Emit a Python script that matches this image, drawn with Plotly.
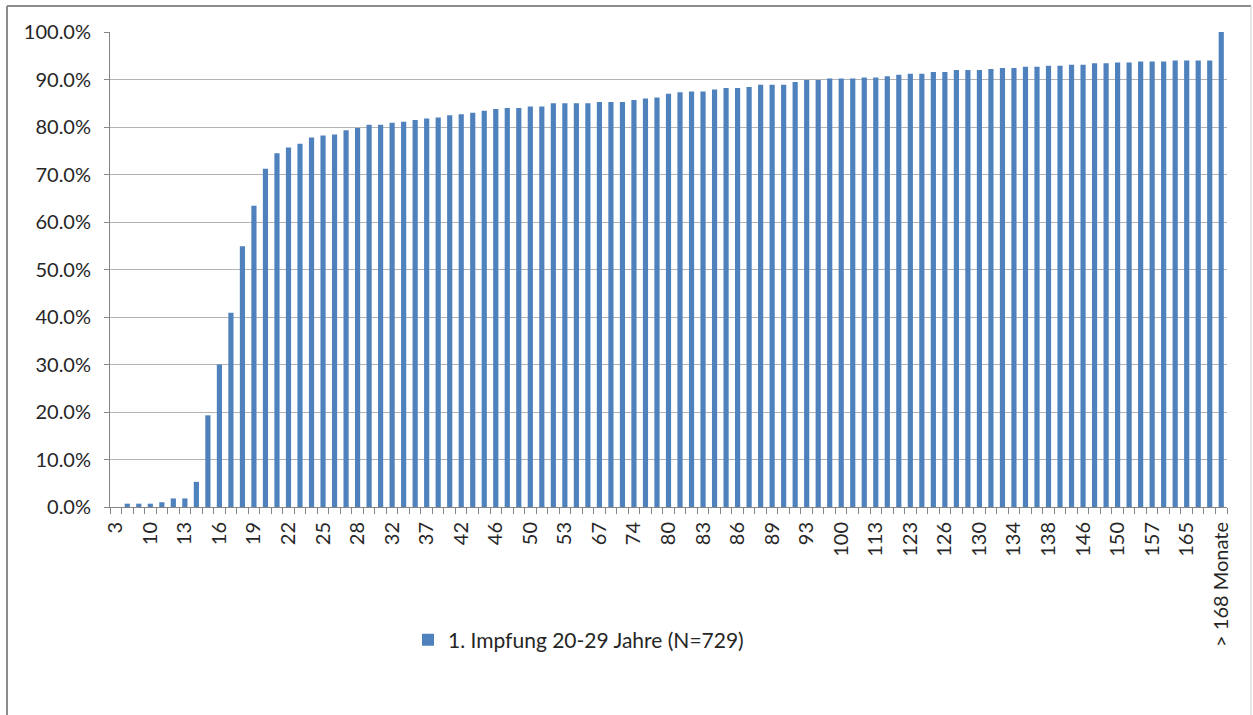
import plotly.graph_objects as go

# ---- data ----
categories = [
    "3", "6", "8", "10", "11", "12", "13", "14", "15", "16", "17", "18", "19",
    "20", "21", "22", "23", "24", "25", "26", "27", "28", "30", "31", "32",
    "34", "35", "37", "39", "40", "42", "43", "44", "46", "47", "48", "50",
    "51", "52", "53", "58", "62", "67", "70", "72", "74", "76", "78", "80",
    "81", "82", "83", "84", "85", "86", "87", "88", "89", "90", "92", "93",
    "95", "98", "100", "105", "110", "113", "117", "120", "123", "124", "125",
    "126", "127", "129", "130", "131", "133", "134", "135", "137", "138",
    "141", "144", "146", "147", "149", "150", "152", "155", "157", "160",
    "163", "165", "166", "167", "> 168 Monate",
]

cum_percent = [
    0.0, 0.7, 0.7, 0.7, 1.0, 1.8, 1.8, 5.3, 19.3, 30.0, 40.9, 54.9, 63.4,
    71.2, 74.5, 75.7, 76.5, 77.8, 78.2, 78.4, 79.3, 79.8, 80.5, 80.5, 80.9,
    81.1, 81.5, 81.8, 82.0, 82.5, 82.7, 83.0, 83.4, 83.8, 84.0, 84.0, 84.3,
    84.3, 85.0, 85.0, 85.0, 85.0, 85.25, 85.25, 85.25, 85.7, 86.0, 86.2, 87.0,
    87.3, 87.5, 87.5, 87.9, 88.2, 88.2, 88.4, 88.9, 88.9, 88.9, 89.5, 89.9,
    89.9, 90.2, 90.2, 90.2, 90.4, 90.4, 90.7, 91.0, 91.2, 91.2, 91.6,
    91.6, 92.0, 92.0, 92.0, 92.2, 92.4, 92.4, 92.7, 92.7, 92.9,
    92.9, 93.1, 93.1, 93.4, 93.4, 93.6, 93.6, 93.8, 93.8, 93.8,
    94.0, 94.0, 94.0, 94.0, 100.0,
]

series_name = "1. Impfung 20-29 Jahre (N=729)"
label_step = 3

# ---- derived ----
values = [v / 100.0 for v in cum_percent]
positions = list(range(len(categories)))
n = len(categories)

W, H = 1253, 715
ML, MR, MT, MB = 110, 26, 32, 208
pw = W - ML - MR
ph = H - MT - MB

def px_x(x):
    return (x - ML) / pw

def px_y(y):
    return (H - MB - y) / ph

FONT = "Lato"
TXT = "#262626"
AXIS = "#868686"

fig = go.Figure()
fig.add_trace(go.Bar(
    x=positions,
    y=values,
    name=series_name,
    width=0.45,
    marker=dict(color="#4F81BD", line=dict(width=0)),
    showlegend=True,
))

fig.update_layout(
    width=W, height=H,
    margin=dict(l=ML, r=MR, t=MT, b=MB),
    paper_bgcolor="white",
    plot_bgcolor="white",
    font=dict(family=FONT, size=20, color=TXT),
    showlegend=True,
    legend=dict(
        orientation="h",
        x=px_x(408), xanchor="left",
        y=px_y(640), yanchor="middle",
        font=dict(family=FONT, size=21, color=TXT),
        bgcolor="rgba(0,0,0,0)",
    ),
    xaxis=dict(
        range=[-0.5, n - 0.5],
        tickmode="array",
        tickvals=positions[::label_step],
        ticktext=categories[::label_step],
        tickangle=-90,
        ticks="",
        ticklabelstandoff=6,
        showgrid=False,
        zeroline=False,
        showline=True,
        linecolor=AXIS,
        linewidth=1,
        tickfont=dict(family=FONT, size=20, color=TXT),
        minor=dict(
            ticks="outside",
            tickmode="linear",
            tick0=-0.5,
            dtick=1,
            ticklen=6,
            tickcolor=AXIS,
            tickwidth=1,
            showgrid=False,
        ),
    ),
    yaxis=dict(
        range=[0, 1],
        tickmode="linear",
        tick0=0,
        dtick=0.1,
        tickformat=".1%",
        showgrid=True,
        gridcolor="#b3b3b3",
        gridwidth=1,
        zeroline=False,
        showline=True,
        linecolor=AXIS,
        linewidth=1,
        ticks="outside",
        ticklen=5,
        tickcolor=AXIS,
        ticklabelstandoff=9,
        tickfont=dict(family=FONT, size=20, color=TXT),
    ),
    shapes=[
        dict(type="line", xref="paper", yref="paper",
             x0=px_x(7), x1=px_x(7), y0=px_y(6), y1=px_y(730),
             line=dict(color="#8c8c8c", width=2)),
        dict(type="line", xref="paper", yref="paper",
             x0=px_x(7), x1=px_x(1251), y0=px_y(6), y1=px_y(6),
             line=dict(color="#8c8c8c", width=2)),
        dict(type="line", xref="paper", yref="paper",
             x0=px_x(1251), x1=px_x(1251), y0=px_y(6), y1=px_y(730),
             line=dict(color="#d0d0d0", width=1)),
    ],
)

fig.write_html(
    "out.html",
    config={"displayModeBar": False},
    post_script="document.body.style.margin='0';",
)
